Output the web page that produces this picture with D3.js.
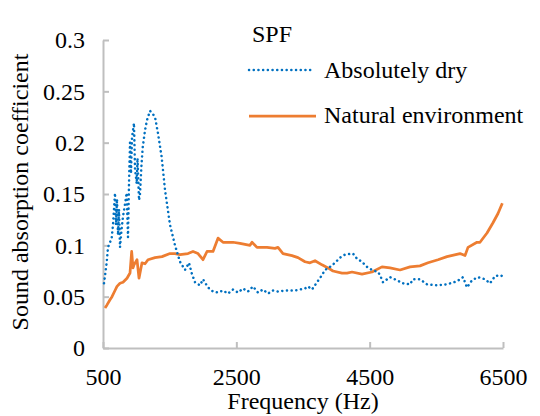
<!DOCTYPE html>
<html>
<head>
<meta charset="utf-8">
<script src="https://cdn.jsdelivr.net/npm/d3@7"></script>
<style>
  html, body { margin: 0; padding: 0; background: #fff; }
  svg { display: block; }
</style>
</head>
<body>
<svg id="chart" width="540" height="416"></svg>
<script>
// ---- Data ----
const dryFreq = [515,555,575,630,650,680,695,710,725,740,755,778,800,830,855,875,890,905,920,935,965,980,1005,1018,1040,1055,1075,1095,1130,1160,1205,1235,1280,1325,1380,1430,1505,1580,1655,1730,1790,1830,1880,1955,2000,2075,2150,2225,2300,2375,2450,2525,2600,2675,2750,2825,2900,2975,3050,3125,3230,3380,3530,3575,3635,3710,3785,3830,3905,3980,4055,4130,4250,4310,4385,4460,4535,4625,4655,4700,4805,4910,5000,5105,5150,5255,5360,5510,5660,5810,5900,5960,6035,6125,6230,6305,6380,6455,6490];
const dryValue = [0.063,0.083,0.098,0.107,0.12,0.151,0.12,0.145,0.11,0.135,0.098,0.115,0.128,0.14,0.151,0.108,0.16,0.2,0.17,0.205,0.219,0.175,0.16,0.185,0.144,0.15,0.176,0.195,0.212,0.222,0.231,0.229,0.225,0.209,0.186,0.154,0.12,0.1,0.084,0.076,0.083,0.073,0.064,0.061,0.067,0.059,0.055,0.054,0.056,0.053,0.057,0.054,0.058,0.055,0.06,0.054,0.057,0.053,0.056,0.055,0.056,0.056,0.058,0.06,0.057,0.064,0.071,0.076,0.079,0.083,0.088,0.091,0.092,0.087,0.084,0.079,0.076,0.074,0.071,0.064,0.069,0.066,0.063,0.062,0.067,0.067,0.062,0.061,0.062,0.065,0.069,0.059,0.066,0.069,0.067,0.063,0.07,0.071,0.07];

const natFreq = [530,560,605,635,680,710,755,800,860,905,930,950,965,1010,1040,1085,1130,1175,1280,1385,1505,1580,1655,1775,1850,1925,2000,2060,2150,2225,2300,2450,2555,2705,2735,2810,2960,3080,3125,3200,3335,3425,3530,3605,3680,3785,3875,3950,4085,4160,4235,4385,4535,4685,4805,4955,5105,5255,5375,5525,5660,5855,5930,5975,6110,6155,6260,6350,6425,6490];
const natValue = [0.039,0.042,0.047,0.05,0.056,0.06,0.063,0.064,0.068,0.073,0.094,0.078,0.081,0.086,0.068,0.083,0.082,0.086,0.088,0.089,0.092,0.092,0.091,0.092,0.094,0.092,0.086,0.094,0.094,0.107,0.103,0.103,0.102,0.1,0.103,0.098,0.098,0.097,0.098,0.092,0.09,0.088,0.084,0.083,0.085,0.081,0.078,0.075,0.073,0.073,0.074,0.072,0.074,0.079,0.078,0.076,0.079,0.08,0.083,0.086,0.089,0.092,0.09,0.098,0.103,0.103,0.112,0.122,0.131,0.141];

const xTicks = [500, 2500, 4500, 6500];
const yTicks = [0, 0.05, 0.1, 0.15, 0.2, 0.25, 0.3];
const yTickLabels = ["0", "0.05", "0.1", "0.15", "0.2", "0.25", "0.3"];
const seriesNames = ["Absolutely dry", "Natural environment"];
const legendTitle = "SPF";

// ---- Layout ----
const svg = d3.select("#chart");
const mLeft = 103, mRight = 503, mTop = 40, mBottom = 348;
const x = d3.scaleLinear().domain([500, 6500]).range([mLeft, mRight]);
const y = d3.scaleLinear().domain([0, 0.3]).range([mBottom, mTop]);
const axisColor = "#bfbfbf";
const blue = "#0070C0", orange = "#ED7D31";
const fontSize = 24;
const fontFam = '"Liberation Serif", "Times New Roman", serif';

// Axes
const yAxis = svg.append("g").attr("transform", `translate(${mLeft},0)`)
  .call(d3.axisLeft(y).tickValues(yTicks).tickFormat((d, i) => yTickLabels[i])
    .tickSizeInner(-6).tickSizeOuter(0).tickPadding(18));
const xAxis = svg.append("g").attr("transform", `translate(0,${mBottom})`)
  .call(d3.axisBottom(x).tickValues(xTicks).tickFormat(d3.format("d"))
    .tickSizeInner(-6).tickSizeOuter(0).tickPadding(20));
[yAxis, xAxis].forEach(g => {
  g.attr("font-family", null).attr("font-size", null);
  g.select(".domain").attr("stroke", axisColor).attr("stroke-width", 2);
  g.selectAll(".tick line").attr("stroke", axisColor).attr("stroke-width", 2);
  g.selectAll(".tick text").style("font-size", fontSize + "px")
    .style("font-family", fontFam).attr("fill", "#000");
});

// Lines
const line = d3.line().x(d => x(d[0])).y(d => y(d[1]));
const natData = natFreq.map((f, i) => [f, natValue[i]]);
const dryData = dryFreq.map((f, i) => [f, dryValue[i]]);

svg.append("path").datum(natData).attr("d", line)
  .attr("fill", "none").attr("stroke", orange).attr("stroke-width", 2.75)
  .attr("stroke-linejoin", "round");
svg.append("path").datum(dryData).attr("d", line)
  .attr("fill", "none").attr("stroke", blue).attr("stroke-width", 2.5)
  .attr("stroke-dasharray", "0.1,4.6").attr("stroke-linecap", "round");

function addText(xp, yp, txt, anchor) {
  return svg.append("text").attr("x", xp).attr("y", yp)
    .attr("text-anchor", anchor || "start")
    .style("font-family", fontFam).style("font-size", fontSize + "px")
    .attr("fill", "#000").text(txt);
}

// Legend
addText(252, 42, legendTitle);
svg.append("line").attr("x1", 249).attr("x2", 312).attr("y1", 70).attr("y2", 70)
  .attr("stroke", blue).attr("stroke-width", 2.5).attr("stroke-dasharray", "0.1,4.6").attr("stroke-linecap", "round");
addText(324, 78, seriesNames[0]);
svg.append("line").attr("x1", 249).attr("x2", 316).attr("y1", 116).attr("y2", 116)
  .attr("stroke", orange).attr("stroke-width", 2.75);
addText(324, 123, seriesNames[1]);

// Axis titles
addText(303, 409, "Frequency (Hz)", "middle");
addText(0, 0, "Sound absorption coefficient", "middle")
  .attr("transform", "translate(28,192) rotate(-90)");
</script>
</body>
</html>
